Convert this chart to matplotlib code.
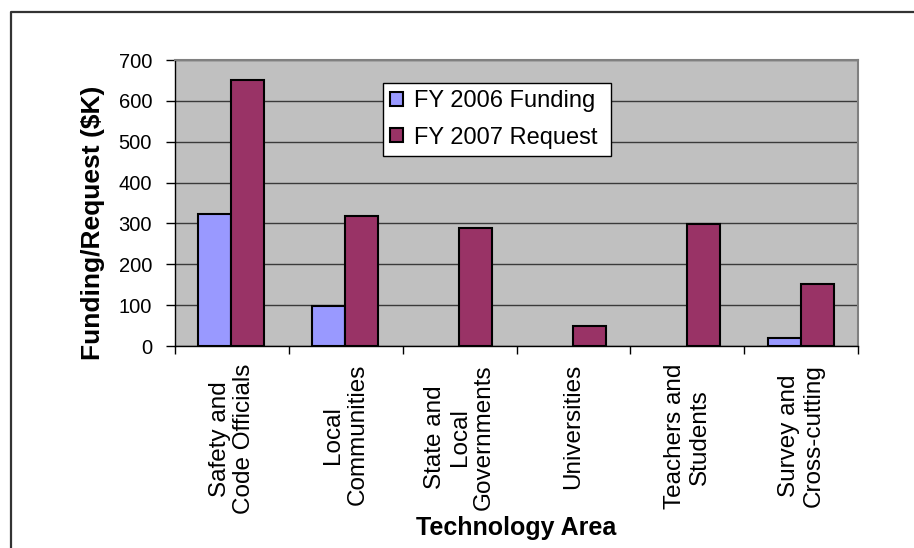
import numpy as np
import matplotlib
matplotlib.use("Agg")
import matplotlib.pyplot as plt
from matplotlib.lines import Line2D

categories = ["Safety and\nCode Officials", "Local\nCommunities", "State and\nLocal\nGovernments",
              "Universities", "Teachers and\nStudents", "Survey and\nCross-cutting"]
fy2006 = [322, 98, 0, 0, 0, 20]
fy2007 = [650, 318, 289, 49, 298, 152]
series_names = ["FY 2006 Funding", "FY 2007 Request"]
yticks = [0, 100, 200, 300, 400, 500, 600, 700]

plt.rcParams['font.family'] = ['Liberation Sans', 'DejaVu Sans']

W, H = 914, 548
fig = plt.figure(figsize=(W / 100, H / 100), dpi=100)
fig.patch.set_facecolor('white')

L, R, T, B = 175, 858, 60, 346
ax = fig.add_axes([L / W, 1 - B / H, (R - L) / W, (B - T) / H])
ax.set_facecolor('#C0C0C0')

x = np.arange(len(categories))
bw = 0.29
a06 = np.array(fy2006, dtype=float)
a07 = np.array(fy2007, dtype=float)
m06 = a06 > 0
m07 = a07 > 0
ax.bar(x[m06] - bw / 2 - 0.005, a06[m06], width=bw, color='#9999FF', edgecolor='black',
       linewidth=1.5, label=series_names[0], zorder=3)
ax.bar(x[m07] + bw / 2 - 0.005, a07[m07], width=bw, color='#993366', edgecolor='black',
       linewidth=1.5, label=series_names[1], zorder=3)

ax.set_xlim(-0.5, len(categories) - 0.5)
ax.set_ylim(0, 700)
ax.set_yticks(yticks)
ax.set_yticklabels([str(v) for v in yticks], fontsize=14.5)
ax.yaxis.grid(True, color='#3a3a3a', linewidth=1.0)
ax.set_axisbelow(True)

ax.set_xticks(x)
ax.set_xticklabels(categories, fontsize=17.5)
for lab in ax.get_xticklabels():
    lab.set_rotation(90)
    lab.set_ha('center')
    lab.set_va('top')
    lab.set_multialignment('center')
    lab.set_linespacing(1.15)
ax.set_xticks(np.arange(len(categories) + 1) - 0.5, minor=True)
ax.tick_params(axis='x', which='major', length=0, pad=13)
ax.tick_params(axis='x', which='minor', length=6, width=1, color='black', direction='out')
ax.tick_params(axis='y', which='major', length=6.5, width=1, color='black', pad=10)

for s in ['top', 'right']:
    ax.spines[s].set_color('#808080')
    ax.spines[s].set_linewidth(1.5)
for s in ['left', 'bottom']:
    ax.spines[s].set_color('black')
    ax.spines[s].set_linewidth(1)

leg = ax.legend(loc='center', bbox_to_anchor=((383 - L) / (R - L), (B - 159) / (B - T),
                                               (611 - 383) / (R - L), (159 - 80) / (B - T)),
                mode='expand', fontsize=17, frameon=True, fancybox=False, shadow=False,
                handlelength=0.55, handleheight=0.55, handletextpad=0.45,
                labelspacing=0.6, borderpad=0.3, borderaxespad=0)
leg.get_frame().set_edgecolor('black')
leg.get_frame().set_linewidth(1)
leg.get_frame().set_facecolor('white')
leg.get_frame().set_alpha(1)

fig.text(93 / W, 1 - 223 / H, "Funding/Request ($K)", rotation=90, ha='center', va='center',
         fontsize=19, fontweight='bold')
fig.text(516 / W, 1 - 535 / H, "Technology Area", ha='center', va='baseline',
         fontsize=18, fontweight='bold')

fig.add_artist(Line2D([11 / W, 11 / W, 1.0], [0.0, 1 - 12 / H, 1 - 12 / H],
                      transform=fig.transFigure, color='#333333', linewidth=1.6))

fig.savefig("out.png", dpi=100)
